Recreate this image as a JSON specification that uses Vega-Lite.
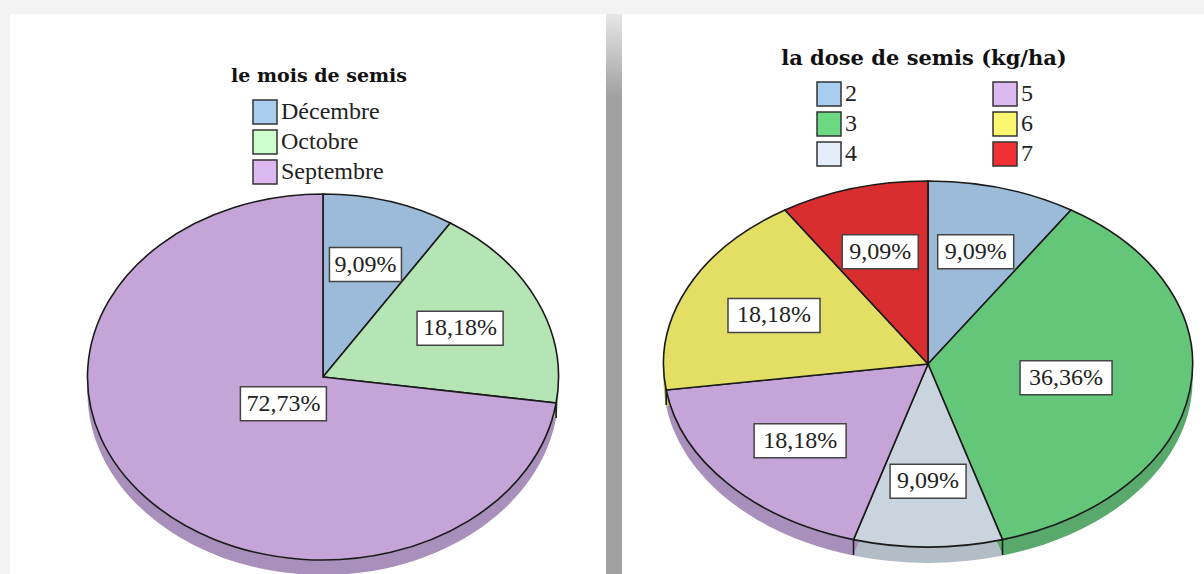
{
"$schema":"https://vega.github.io/schema/vega-lite/v6.json",
"background":"#f3f3f3",
"padding":{"left":10,"top":14,"right":0,"bottom":0},
"spacing":0,
"bounds":"flush",
"config":{"view":{"stroke":null},"legend":{"padding":0,"symbolType":"square","symbolSize":576,"symbolStrokeColor":"#333333","symbolStrokeWidth":1.5,"labelFont":"Liberation Serif","labelFontSize":24,"labelColor":"#222222","labelOffset":3,"rowPadding":0,"labelLimit":200},"title":{"font":"DejaVu Serif","fontWeight":"bold","color":"#111111","anchor":"middle"}},
"hconcat":[
{"width":596,"height":560,"view":{"fill":"#ffffff"},
"title":{"text":"le mois de semis","dx":11,"offset":-72,"fontSize":19},
"data":{"values":[
{"mois":"Décembre","rang":1,"part":9.09,"etiquette":"9,09%"},
{"mois":"Octobre","rang":2,"part":18.18,"etiquette":"18,18%"},
{"mois":"Septembre","rang":3,"part":72.73,"etiquette":"72,73%"}]},
"transform":[
{"stack":"part","groupby":[],"sort":[{"field":"rang","order":"ascending"}],"as":["s0","s1"]},
{"calculate":"min(0.64,0.832-0.00838*datum.part)*sin(PI*(datum.s0+datum.s1)/100)","as":"lx"},
{"calculate":"min(0.64,0.832-0.00838*datum.part)*cos(PI*(datum.s0+datum.s1)/100)","as":"ly"}],
"resolve":{"scale":{"color":"independent","shape":"independent"}},
"layer":[
{"mark":{"type":"point","filled":true,"opacity":1,"size":4,"yOffset":15,"clip":true},
"encoding":{"x":{"datum":0,"type":"quantitative","scale":{"domain":[-1.329,1.2017],"nice":false,"zero":false},"axis":null},
"y":{"datum":0,"type":"quantitative","scale":{"domain":[-1.0765,1.9836],"nice":false,"zero":false},"axis":null},
"shape":{"field":"mois","type":"nominal","legend":null,"scale":{"domain":["Décembre","Octobre","Septembre"],"range":["M0,0L0,-183A235.5,183 0 0 1 127.3,-154Z","M0,0L127.3,-154A235.5,183 0 0 1 233.1,26Z","M0,0L233.1,26A235.5,183 0 1 1 0,-183Z"]}},
"color":{"field":"mois","type":"nominal","legend":null,"scale":{"domain":["Décembre","Octobre","Septembre"],"range":["#86a2bc","#9cc89c","#a98fbb"]}}}},
{"mark":{"type":"point","filled":true,"opacity":1,"size":4,"stroke":"#1a1a1a","strokeWidth":1.6,"clip":true},
"encoding":{"x":{"datum":0,"type":"quantitative"},"y":{"datum":0,"type":"quantitative"},
"shape":{"field":"mois","type":"nominal","legend":null,"scale":{"domain":["Décembre","Octobre","Septembre"],"range":["M0,0L0,-183A235.5,183 0 0 1 127.3,-154Z","M0,0L127.3,-154A235.5,183 0 0 1 233.1,26Z","M0,0L233.1,26A235.5,183 0 1 1 0,-183ZM233.1,26V41"]}},
"color":{"field":"mois","type":"nominal","legend":null,"scale":{"domain":["Décembre","Octobre","Septembre"],"range":["#9bbbd8","#b5e5b5","#c5a5d8"]}}}},
{"mark":{"type":"point","filled":true,"opacity":1,"size":0},
"encoding":{"x":{"datum":0,"type":"quantitative"},"y":{"datum":0,"type":"quantitative"},
"color":{"field":"mois","type":"nominal","title":null,"scale":{"domain":["Décembre","Octobre","Septembre"],"range":["#a9cdee","#ccffcc","#dcb8f0"]},"legend":{"orient":"none","legendX":242,"legendY":85,"title":null}}}},
{"mark":{"type":"point","filled":true,"opacity":1,"size":4,"fill":"#ffffff","stroke":"#444444","strokeWidth":1.5},
"encoding":{"x":{"field":"lx","type":"quantitative"},"y":{"field":"ly","type":"quantitative"},
"shape":{"field":"etiquette","type":"nominal","legend":null,"scale":{"domain":["9,09%","18,18%","72,73%"],"range":["M-36,-17H36V17H-36Z","M-43,-17H43V17H-43Z","M-43,-17H43V17H-43Z"]}}}},
{"mark":{"type":"text","font":"Liberation Serif","fontSize":24,"color":"#222222","align":"center","baseline":"middle"},
"encoding":{"x":{"field":"lx","type":"quantitative"},"y":{"field":"ly","type":"quantitative"},"text":{"field":"etiquette","type":"nominal"}}}
]},
{"width":16,"height":560,
"view":{"fill":{"x1":0,"y1":0,"x2":0,"y2":1,"gradient":"linear","stops":[{"offset":0,"color":"#e6e6e6"},{"offset":0.15,"color":"#a0a0a0"},{"offset":1,"color":"#a0a0a0"}]}},
"data":{"values":[]},
"mark":{"type":"point","opacity":0},"encoding":{}},
{"width":582,"height":560,"view":{"fill":"#ffffff"},
"title":{"text":"la dose de semis (kg/ha)","dx":11,"offset":-55,"fontSize":21},
"data":{"values":[
{"dose":"2","rang":1,"part":9.09,"etiquette":"9,09%"},
{"dose":"3","rang":2,"part":36.36,"etiquette":"36,36%"},
{"dose":"4","rang":3,"part":9.09,"etiquette":"9,09%"},
{"dose":"5","rang":4,"part":18.18,"etiquette":"18,18%"},
{"dose":"6","rang":5,"part":18.18,"etiquette":"18,18%"},
{"dose":"7","rang":6,"part":9.09,"etiquette":"9,09%"}]},
"transform":[
{"stack":"part","groupby":[],"sort":[{"field":"rang","order":"ascending"}],"as":["s0","s1"]},
{"calculate":"min(0.64,0.832-0.00838*datum.part)*sin(PI*(datum.s0+datum.s1)/100)","as":"lx"},
{"calculate":"min(0.64,0.832-0.00838*datum.part)*cos(PI*(datum.s0+datum.s1)/100)","as":"ly"}],
"resolve":{"scale":{"color":"independent","shape":"independent"}},
"layer":[
{"mark":{"type":"point","filled":true,"opacity":1,"size":4,"yOffset":16,"clip":true},
"encoding":{"x":{"datum":0,"type":"quantitative","scale":{"domain":[-1.157,1.0435],"nice":false,"zero":false},"axis":null},
"y":{"datum":0,"type":"quantitative","scale":{"domain":[-1.1475,1.9126],"nice":false,"zero":false},"axis":null},
"shape":{"field":"dose","type":"nominal","legend":null,"scale":{"domain":["2","3","4","5","6","7"],"range":["M0,0L0,-183A264.5,183 0 0 1 143,-154Z","M0,0L143,-154A264.5,183 0 0 1 74.5,175.6Z","M0,0L74.5,175.6A264.5,183 0 0 1 -74.5,175.6Z","M0,0L-74.5,175.6A264.5,183 0 0 1 -261.8,26Z","M0,0L-261.8,26A264.5,183 0 0 1 -143,-154Z","M0,0L-143,-154A264.5,183 0 0 1 0,-183Z"]}},
"color":{"field":"dose","type":"nominal","legend":null,"scale":{"domain":["2","3","4","5","6","7"],"range":["#86a2bc","#58a96b","#b3bdc8","#a98fbb","#c4c056","#b82728"]}}}},
{"mark":{"type":"point","filled":true,"opacity":1,"size":4,"stroke":"#1a1a1a","strokeWidth":1.6,"clip":true},
"encoding":{"x":{"datum":0,"type":"quantitative"},"y":{"datum":0,"type":"quantitative"},
"shape":{"field":"dose","type":"nominal","legend":null,"scale":{"domain":["2","3","4","5","6","7"],"range":["M0,0L0,-183A264.5,183 0 0 1 143,-154Z","M0,0L143,-154A264.5,183 0 0 1 74.5,175.6ZM74.5,175.6V191","M0,0L74.5,175.6A264.5,183 0 0 1 -74.5,175.6Z","M0,0L-74.5,175.6A264.5,183 0 0 1 -261.8,26ZM-74.5,175.6V191","M0,0L-261.8,26A264.5,183 0 0 1 -143,-154ZM-261.8,26V41","M0,0L-143,-154A264.5,183 0 0 1 0,-183Z"]}},
"color":{"field":"dose","type":"nominal","legend":null,"scale":{"domain":["2","3","4","5","6","7"],"range":["#9bbbd8","#63c678","#c9d4df","#c5a5d8","#e3de64","#d92e2f"]}}}},
{"mark":{"type":"point","filled":true,"opacity":1,"size":0},
"encoding":{"x":{"datum":0,"type":"quantitative"},"y":{"datum":0,"type":"quantitative"},
"color":{"field":"dose","type":"nominal","title":null,"scale":{"domain":["2","3","4","5","6","7"],"range":["#a9cdee","#6cd882","#e3eef9","#dcb8f0","#fbf76f","#f03035"]},"legend":{"orient":"none","legendX":194,"legendY":67,"title":null,"columns":2,"columnPadding":133}}}},
{"mark":{"type":"point","filled":true,"opacity":1,"size":4,"fill":"#ffffff","stroke":"#444444","strokeWidth":1.5},
"encoding":{"x":{"field":"lx","type":"quantitative"},"y":{"field":"ly","type":"quantitative"},
"shape":{"field":"etiquette","type":"nominal","legend":null,"scale":{"domain":["9,09%","18,18%","36,36%"],"range":["M-38,-17H38V17H-38Z","M-46,-17H46V17H-46Z","M-46,-17H46V17H-46Z"]}}}},
{"mark":{"type":"text","font":"Liberation Serif","fontSize":24,"color":"#222222","align":"center","baseline":"middle"},
"encoding":{"x":{"field":"lx","type":"quantitative"},"y":{"field":"ly","type":"quantitative"},"text":{"field":"etiquette","type":"nominal"}}}
]}
]}
